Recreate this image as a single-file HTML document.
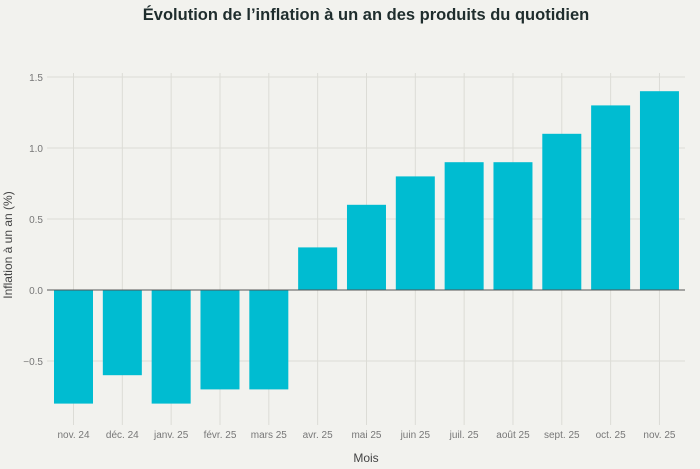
<!DOCTYPE html>
<html><head><style>
body{margin:0;background:#f2f2ee;}
svg{display:block;font-family:"Liberation Sans",sans-serif;}
</style></head><body>
<svg width="700" height="469" viewBox="0 0 700 469">
<rect width="700" height="469" fill="#f2f2ee"/>
<text x="366" y="20" text-anchor="middle" font-size="16.5" font-weight="bold" fill="#1f2d2d">Évolution de l’inflation à un an des produits du quotidien</text>
<g stroke="#dcdcd6" stroke-width="1">
<line x1="47" x2="685" y1="77" y2="77"/>
<line x1="47" x2="685" y1="148" y2="148"/>
<line x1="47" x2="685" y1="219" y2="219"/>
<line x1="47" x2="685" y1="361" y2="361"/>
</g>
<g id="vg" stroke="#dcdcd6" stroke-width="1"></g>
<g id="bars" fill="#00bcd1"></g>
<line x1="47" x2="685" y1="290" y2="290" stroke="#555" stroke-width="1"/>
<g font-size="10" fill="#777" text-anchor="end">
<text x="43" y="81">1.5</text>
<text x="43" y="152">1.0</text>
<text x="43" y="223">0.5</text>
<text x="43" y="294">0.0</text>
<text x="43" y="365">−0.5</text>
</g>
<g id="xl" font-size="10" fill="#777" text-anchor="middle"></g>
<text x="366" y="462" text-anchor="middle" font-size="12" fill="#444">Mois</text>
<text transform="translate(12,245) rotate(-90)" text-anchor="middle" font-size="12" fill="#444">Inflation à un an (%)</text>
<script>
var labs=["nov. 24","déc. 24","janv. 25","févr. 25","mars 25","avr. 25","mai 25","juin 25","juil. 25","août 25","sept. 25","oct. 25","nov. 25"];
var vals=[-0.8,-0.6,-0.8,-0.7,-0.7,0.3,0.6,0.8,0.9,0.9,1.1,1.3,1.4];
var ns="http://www.w3.org/2000/svg",vg=document.getElementById("vg"),b=document.getElementById("bars"),xl=document.getElementById("xl");
for(var i=0;i<13;i++){var c=73.5+i*48.83;
var l=document.createElementNS(ns,"line");l.setAttribute("x1",c);l.setAttribute("x2",c);l.setAttribute("y1",73);l.setAttribute("y2",425);vg.appendChild(l);
var v=vals[i],y0=290,y1=290-v*142;var r=document.createElementNS(ns,"rect");r.setAttribute("x",c-19.5);r.setAttribute("width",39);r.setAttribute("y",Math.min(y0,y1));r.setAttribute("height",Math.abs(y1-y0));b.appendChild(r);
var t=document.createElementNS(ns,"text");t.setAttribute("x",c);t.setAttribute("y",438);t.textContent=labs[i];xl.appendChild(t);}
</script>
</svg>
</body></html>
